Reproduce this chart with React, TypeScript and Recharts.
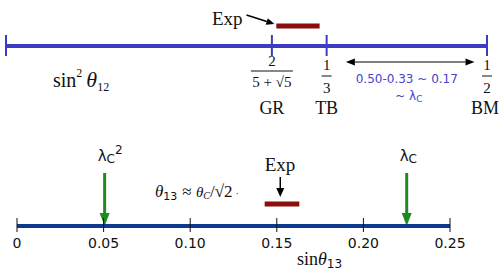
import React from "react";
import { ComposedChart, XAxis, YAxis, ReferenceLine, ReferenceDot } from "recharts";

// sin^2 theta_12 scale
const theta12Ticks = [0, 0.2764, 0.3333, 0.5];
const theta12Marks = [
  { name: "GR", value: 0.2764, num: "2", den: "5 + √5" },
  { name: "TB", value: 0.3333, num: "1", den: "3" },
  { name: "BM", value: 0.5, num: "1", den: "2" },
];
const theta12Exp = [0.281, 0.326];

// sin theta_13 scale
const theta13Ticks = [0, 0.05, 0.1, 0.15, 0.2, 0.25];
const theta13TickLabels = ["0", "0.05", "0.10", "0.15", "0.20", "0.25"];
const theta13Exp = [0.143, 0.163];
const lambdaC = 0.225;
const lambdaC2 = 0.0506;

const BLUE = "#3c3cc2";
const NAVY = "#0b3a8f";
const DARK_RED = "#8b0e0e";
const GREEN = "#1f8a1f";
const SERIF = "'Liberation Serif', 'DejaVu Serif', serif";
const SANS = "'DejaVu Sans', sans-serif";

type Seg = { x1: number; y1: number; x2: number; y2: number };

const arrowShape =
  (color: string, width: number, headLen: number, headW: number, both = false) =>
  (p: any) => {
    const { x1, y1, x2, y2 } = p as Seg;
    const dx = x2 - x1;
    const dy = y2 - y1;
    const len = Math.hypot(dx, dy) || 1;
    const ux = dx / len;
    const uy = dy / len;
    const px = (-uy * headW) / 2;
    const py = (ux * headW) / 2;
    const bx = x2 - ux * headLen;
    const by = y2 - uy * headLen;
    const sx = both ? x1 + ux * headLen : x1;
    const sy = both ? y1 + uy * headLen : y1;
    return (
      <g>
        <line x1={sx} y1={sy} x2={bx} y2={by} stroke={color} strokeWidth={width} />
        <polygon points={`${x2},${y2} ${bx + px},${by + py} ${bx - px},${by - py}`} fill={color} />
        {both && (
          <polygon points={`${x1},${y1} ${sx + px},${sy + py} ${sx - px},${sy - py}`} fill={color} />
        )}
      </g>
    );
  };

const markLabel = (m: (typeof theta12Marks)[number], last: boolean) => (p: any) => {
  const cx = p.cx as number;
  const wide = m.den.length > 1;
  return (
    <g fontFamily={SERIF} fill="#111" textAnchor="middle">
      <text x={cx} y={wide ? 66 : 70} fontSize={15}>{m.num}</text>
      <line
        x1={cx - (wide ? 21 : 5)}
        x2={cx + (wide ? 21 : 5)}
        y1={wide ? 71 : 76}
        y2={wide ? 71 : 76}
        stroke="#111"
        strokeWidth={1}
      />
      <text x={cx} y={wide ? 87 : 93} fontSize={15}>{m.den}</text>
      <text x={last ? 499 : cx} y={114} fontSize={18} textAnchor={last ? "end" : "middle"}>
        {m.name}
      </text>
    </g>
  );
};

const Theta13Tick = (props: any) => {
  const { x, y, payload, index } = props;
  return (
    <g>
      <line x1={x} x2={x} y1={y - 8} y2={y + 6} stroke="#111" strokeWidth={1} />
      <text x={x} y={y + 22} textAnchor="middle" fontFamily={SANS} fontSize={14} fill="#111">
        {theta13TickLabels[index] ?? String(payload.value)}
      </text>
    </g>
  );
};

function TopScale() {
  return (
    <ComposedChart width={499} height={130} margin={{ top: 0, right: 12, bottom: 0, left: 6 }}>
      <XAxis type="number" dataKey="x" domain={[0, 0.5]} hide height={0} allowDataOverflow />
      <YAxis type="number" domain={[0, 130]} reversed hide width={0} allowDataOverflow />
      <ReferenceLine
        segment={[{ x: 0, y: 46 }, { x: 0.5, y: 46 }]}
        stroke={BLUE}
        strokeWidth={4}
      />
      {theta12Ticks.map((t) => (
        <ReferenceLine
          key={t}
          segment={[{ x: t, y: 35 }, { x: t, y: 56 }]}
          stroke={BLUE}
          strokeWidth={2}
        />
      ))}
      <ReferenceLine
        segment={[{ x: theta12Exp[0], y: 26 }, { x: theta12Exp[1], y: 26 }]}
        stroke={DARK_RED}
        strokeWidth={5}
      />
      <ReferenceLine
        segment={[{ x: theta12Exp[0] - 0.031, y: 15 }, { x: theta12Exp[0] - 0.002, y: 24 }]}
        shape={arrowShape("#000", 1.5, 8, 7)}
      />
      {theta12Marks.map((m, i) => (
        <ReferenceDot
          key={m.name}
          x={m.value}
          y={60}
          r={0}
          shape={markLabel(m, i === theta12Marks.length - 1)}
        />
      ))}
      <ReferenceLine
        segment={[{ x: theta12Marks[1].value + 0.02, y: 62 }, { x: theta12Marks[2].value - 0.013, y: 62 }]}
        shape={arrowShape("#000", 1, 9, 7, true)}
      />
      <ReferenceDot
        x={(theta12Marks[1].value + theta12Marks[2].value) / 2}
        y={80}
        r={0}
        shape={(p: any) => (
          <g fontFamily={SANS} fill="#4444cc" textAnchor="middle">
            <text x={p.cx} y={83} fontSize={12}>0.50-0.33 ~ 0.17</text>
            <text x={p.cx + 2} y={100} fontSize={12}>
              ~ λ<tspan fontSize={9} dy={2}>C</tspan>
            </text>
          </g>
        )}
      />
      <text x={212} y={25} fontFamily={SERIF} fontSize={19} fill="#111">Exp</text>
      <text x={53} y={87} fontFamily={SERIF} fontSize={20} fill="#111">
        sin<tspan fontSize={12} dy={-10}>2</tspan>
        <tspan dx={4} dy={10} fontStyle="italic" fontSize={22}>θ</tspan>
        <tspan fontSize={12} dy={4}>12</tspan>
      </text>
    </ComposedChart>
  );
}

function BottomScale() {
  const expMid = (theta13Exp[0] + theta13Exp[1]) / 2;
  return (
    <ComposedChart width={499} height={141} margin={{ top: 0, right: 49, bottom: 0, left: 17 }}>
      <XAxis
        type="number"
        dataKey="x"
        domain={[0, 0.25]}
        ticks={theta13Ticks}
        interval={0}
        height={45}
        axisLine={{ stroke: NAVY, strokeWidth: 4 }}
        tickLine={false}
        tickSize={0}
        tickMargin={0}
        tick={<Theta13Tick />}
        allowDataOverflow
      />
      <YAxis type="number" domain={[0, 96]} reversed hide width={0} allowDataOverflow />
      <ReferenceLine
        segment={[{ x: theta13Exp[0], y: 74 }, { x: theta13Exp[1], y: 74 }]}
        stroke={DARK_RED}
        strokeWidth={5}
      />
      <ReferenceLine
        segment={[{ x: expMid - 0.001, y: 47 }, { x: expMid - 0.001, y: 67 }]}
        shape={arrowShape("#000", 1.5, 9, 8)}
      />
      <ReferenceDot
        x={expMid}
        y={40}
        r={0}
        shape={(p: any) => (
          <text x={p.cx - 2} y={41} textAnchor="middle" fontFamily={SERIF} fontSize={19} fill="#111">
            Exp
          </text>
        )}
      />
      {[
        { v: lambdaC2, sup: "2" },
        { v: lambdaC, sup: "" },
      ].map((a) => (
        <React.Fragment key={a.v}>
          <ReferenceLine
            segment={[{ x: a.v, y: 43 }, { x: a.v, y: 96 }]}
            shape={arrowShape(GREEN, 3, 13, 10)}
          />
          <ReferenceDot
            x={a.v}
            y={25}
            r={0}
            shape={(p: any) => (
              <text x={p.cx - 7} y={31} fontFamily={SANS} fontSize={15} fill="#111">
                λ<tspan fontSize={12} dy={2}>C</tspan>
                {a.sup && <tspan fontSize={12} dy={-9}>{a.sup}</tspan>}
              </text>
            )}
          />
        </React.Fragment>
      ))}
      <text x={155} y={67} fontFamily={SERIF} fontSize={17} fill="#111">
        <tspan fontStyle="italic">θ</tspan>
        <tspan fontFamily={SANS} fontSize={11} dy={3}>13</tspan>
        <tspan dx={5} dy={-3}>≈ </tspan>
        <tspan fontStyle="italic" fontSize={15}>θ</tspan>
        <tspan fontStyle="italic" fontSize={10} dy={2}>C</tspan>
        <tspan dy={-2}>/√2</tspan>
        <tspan dx={3} fontSize={10}>·</tspan>
      </text>
      <text x={297} y={135} fontFamily={SERIF} fontSize={18} fill="#111">
        sin<tspan fontStyle="italic">θ</tspan>
        <tspan fontFamily={SANS} fontSize={12} dy={3}>13</tspan>
      </text>
    </ComposedChart>
  );
}

export default function App() {
  return (
    <div style={{ position: "absolute", left: 0, top: 0, width: 499, height: 271, background: "#fff" }}>
      <div style={{ position: "absolute", left: 0, top: 0 }}>
        <TopScale />
      </div>
      <div style={{ position: "absolute", left: 0, top: 130 }}>
        <BottomScale />
      </div>
    </div>
  );
}
